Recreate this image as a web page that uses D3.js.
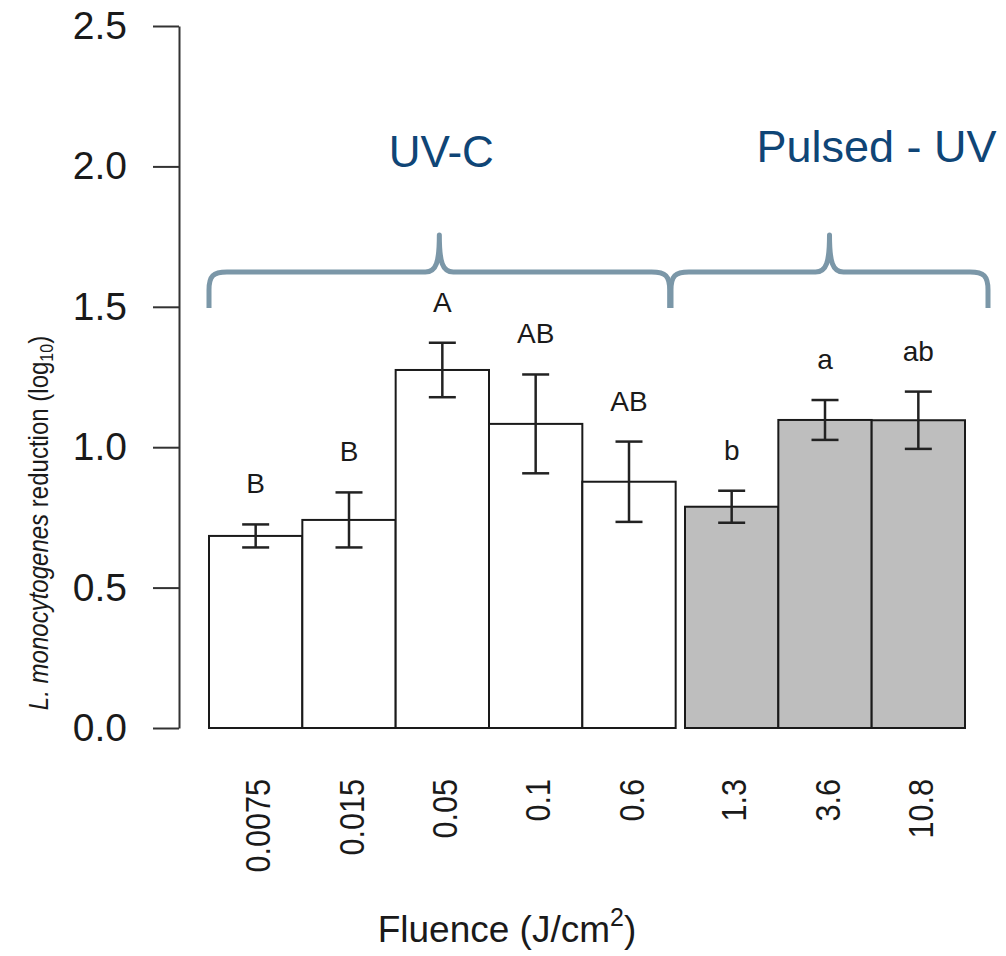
<!DOCTYPE html>
<html>
<head>
<meta charset="utf-8">
<script src="https://cdn.jsdelivr.net/npm/d3@7"></script>
<style>
body { margin: 0; background: #fff; }
svg { display: block; }
text { font-family: "Liberation Sans", Arial, sans-serif; fill: #1a1a1a; }
</style>
</head>
<body>
<svg width="1006" height="956"></svg>
<script>
width = 1006
height = 956

// one bar per fluence level (J/cm2)
fluence = ["0.0075", "0.015", "0.05", "0.1", "0.6", "1.3", "3.6", "10.8"]
reduction = [0.684, 0.741, 1.275, 1.083, 0.877, 0.788, 1.097, 1.096]
stdErr = [0.041, 0.098, 0.097, 0.176, 0.143, 0.057, 0.071, 0.102]
letters = ["B", "B", "A", "AB", "AB", "b", "a", "ab"]
lamp = ["UV-C", "UV-C", "UV-C", "UV-C", "UV-C", "Pulsed", "Pulsed", "Pulsed"]
yTicks = [0, 0.5, 1, 1.5, 2, 2.5]

groups = ["UV-C", "Pulsed"]
groupLabels = ["UV-C", "Pulsed - UV"]

// barplot layout: width 1, extra space 0.1 before a new lamp type
gap = 0.1
left = []
let pos = 0
lamp.forEach((d, i) => {
  if (i > 0 && d !== lamp[i - 1]) pos += gap
  left.push(pos)
  pos += 1
})

x = d3.scaleLinear().domain([0, pos]).range([209, 965])
y = d3.scaleLinear().domain([0, 2.5]).range([728, 26])
fill = d3.scaleOrdinal().domain(groups).range(["#ffffff", "#bebebe"])

svg = d3.select("svg")

// bars
svg.append("g")
  .selectAll("rect")
  .data(reduction)
  .join("rect")
    .attr("x", (d, i) => x(left[i]))
    .attr("width", x(1) - x(0))
    .attr("y", d => y(d))
    .attr("height", d => y(0) - y(d))
    .attr("fill", (d, i) => fill(lamp[i]))
    .attr("stroke", "#1a1a1a")
    .attr("stroke-width", 2)

// error bars
const err = svg.append("g")
    .attr("stroke", "#222")
    .attr("stroke-width", 2.5)
  .selectAll("g")
  .data(reduction)
  .join("g")
    .attr("transform", (d, i) => `translate(${x(left[i] + 0.5)},0)`)

err.append("line")
    .attr("y1", (d, i) => y(d - stdErr[i]))
    .attr("y2", (d, i) => y(d + stdErr[i]))
err.append("line")
    .attr("x1", -13.5).attr("x2", 13.5)
    .attr("y1", (d, i) => y(d + stdErr[i]))
    .attr("y2", (d, i) => y(d + stdErr[i]))
err.append("line")
    .attr("x1", -13.5).attr("x2", 13.5)
    .attr("y1", (d, i) => y(d - stdErr[i]))
    .attr("y2", (d, i) => y(d - stdErr[i]))

// significance letters
svg.append("g")
    .attr("font-size", 28)
    .attr("text-anchor", "middle")
  .selectAll("text")
  .data(letters)
  .join("text")
    .attr("x", (d, i) => x(left[i] + 0.5))
    .attr("y", (d, i) => y(reduction[i] + stdErr[i]) - 31)
    .text(d => d)

// y axis, R style
const yAxis = svg.append("g")
    .attr("transform", "translate(179,0)")
    .call(d3.axisLeft(y)
      .tickValues(yTicks)
      .tickSize(26)
      .tickSizeOuter(0)
      .tickPadding(26)
      .tickFormat(d3.format(".1f")))
yAxis.selectAll("path, line").attr("stroke", "#333").attr("stroke-width", 2)
yAxis.selectAll("text")
    .attr("font-size", 39)
    .attr("font-family", "Liberation Sans, Arial, sans-serif")
    .attr("fill", "#1a1a1a")

// x labels, perpendicular to the axis
svg.append("g")
    .attr("font-size", 36)
    .attr("text-anchor", "end")
  .selectAll("text")
  .data(fluence)
  .join("text")
    .attr("transform", (d, i) => `translate(${x(left[i] + 0.5) + 2},779) rotate(-90) scale(0.85,1)`)
    .attr("dy", "0.35em")
    .text(d => d)

// axis titles
const xt = svg.append("text")
    .attr("x", 507)
    .attr("y", 942)
    .attr("font-size", 37)
    .attr("text-anchor", "middle")
xt.append("tspan").text("Fluence (J/cm")
xt.append("tspan").attr("font-size", 25).attr("dy", -16).text("2")
xt.append("tspan").attr("dy", 16).text(")")

const yt = svg.append("text")
    .attr("transform", "translate(48,523) rotate(-90) scale(0.89,1)")
    .attr("font-size", 27)
    .attr("text-anchor", "middle")
yt.append("tspan").attr("font-style", "italic").text("L. monocytogenes")
yt.append("tspan").text(" reduction (log")
yt.append("tspan").attr("font-size", 18).attr("dy", 5).text("10")
yt.append("tspan").attr("dy", -5).text(")")

// curly braces over each lamp type
padL = [0, -14]
padR = [-6, 23]
labelDx = [2, 47]
labelY = [167, 162]
labelSize = [44, 45]

function brace(x0, x1) {
  const xc = (x0 + x1) / 2, ym = 272, yb = 308, yt = 235, r = 18
  return `M${x0},${yb} L${x0},${ym + r} C${x0},${ym + 4} ${x0 + 4},${ym} ${x0 + r},${ym}
    L${xc - 14},${ym} C${xc - 3},${ym} ${xc},${ym - 10} ${xc},${yt}
    C${xc},${ym - 10} ${xc + 3},${ym} ${xc + 14},${ym}
    L${x1 - r},${ym} C${x1 - 4},${ym} ${x1},${ym + 4} ${x1},${ym + r} L${x1},${yb}`
}

const gb = svg.append("g")
  .selectAll("g")
  .data(groups)
  .join("g")
    .each(function(g, k) {
      const idx = lamp.map((d, i) => d === g ? i : -1).filter(i => i >= 0)
      g0 = x(left[idx[0]]) + padL[k]
      g1 = x(left[idx[idx.length - 1]] + 1) + padR[k]
      d3.select(this).append("path")
          .attr("d", brace(g0, g1))
          .attr("fill", "none")
          .attr("stroke", "#7b97a8")
          .attr("stroke-width", 5)
          .attr("stroke-linejoin", "round")
      d3.select(this).append("text")
          .attr("x", (g0 + g1) / 2 + labelDx[k])
          .attr("y", labelY[k])
          .attr("font-size", labelSize[k])
          .attr("text-anchor", "middle")
          .style("fill", "#0f4576")
          .text(groupLabels[k])
    })
</script>
</body>
</html>
